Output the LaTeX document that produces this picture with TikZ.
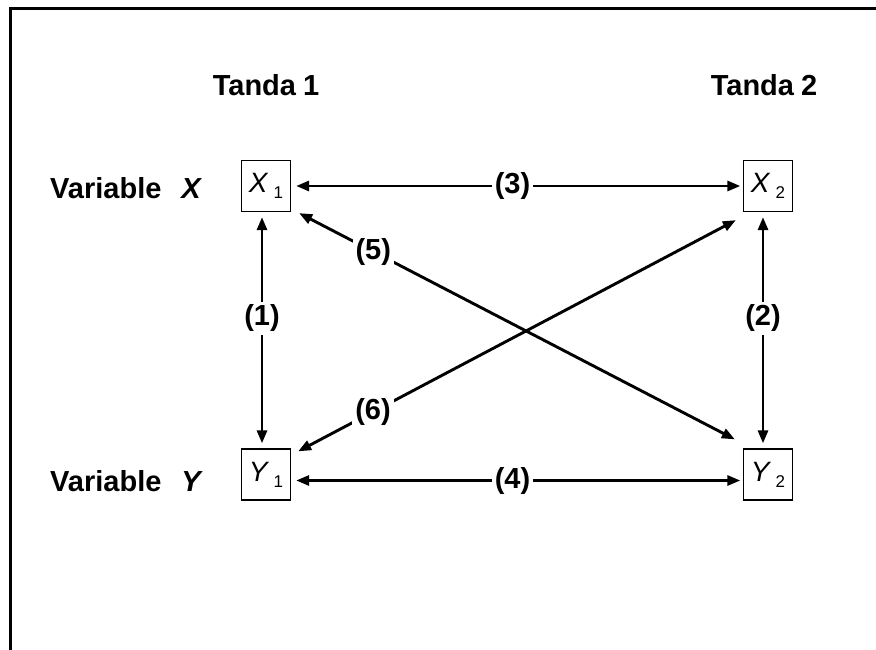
\documentclass[tikz,border=0pt]{standalone}
\usepackage{fontspec}
\setmainfont{Liberation Sans}
\usetikzlibrary{arrows.meta,calc}

\tikzset{
  lbl/.style={font=\fontsize{29}{33}\selectfont\bfseries, inner sep=0pt},
  varbox/.style={draw, line width=1.3pt, minimum width=49pt, minimum height=51pt, inner sep=0pt},
  link/.style={line width=2.9pt, {Triangle[length=13pt,width=10pt]}-{Triangle[length=13pt,width=10pt]}},
  tag/.style={fill=white, inner sep=3pt, font=\fontsize{29}{33}\selectfont\bfseries},
  frame/.style={line width=3.2pt}
}

\newcommand{\boxvar}[2]{{\fontsize{28}{28}\selectfont\itshape #1}\kern6pt\raisebox{-6pt}{\fontsize{17}{17}\selectfont #2}}

\begin{document}
\begin{tikzpicture}[x=1pt,y=-1pt]
  \useasboundingbox (0,0) rectangle (876,650);

  % open frame: top and left edges
  \draw[frame] (9,8.5) -- (876,8.5);
  \draw[frame] (10.5,7) -- (10.5,650);

  % column and row headings
  \node[lbl] (t1) at (266,85) {Tanda\hspace{7pt}1};
  \node[lbl] (t2) at (764,85) {Tanda\hspace{7pt}2};
  \node[lbl, anchor=west] (vx) at (50,188) {Variable\hspace{20pt}\textit{X}};
  \node[lbl, anchor=west] (vy) at (50,481) {Variable\hspace{20pt}\textit{Y}};

  % variable boxes
  \node[varbox] (X1) at (266,186)   {\boxvar{X}{1}};
  \node[varbox] (X2) at (768,186)   {\boxvar{X}{2}};
  \node[varbox] (Y1) at (266,474.5) {\boxvar{Y}{1}};
  \node[varbox] (Y2) at (768,474.5) {\boxvar{Y}{2}};

  % two-headed relations
  \draw[link] ($(X1.east)+(5,0)$) -- node[tag, pos=0.487] {(3)} ($(X2.west)+(-2.5,0)$);
  \draw[link] ($(Y1.east)+(5,6)$) -- node[tag, pos=0.487] {(4)} ($(Y2.west)+(-2.5,6)$);
  \draw[link] ($(X1.south)+(-4,5)$) -- node[tag, pos=0.447] {(1)} ($(Y1.north)+(-4,-5)$);
  \draw[link] ($(X2.south)+(-5,5)$) -- node[tag, pos=0.447] {(2)} ($(Y2.north)+(-5,-5)$);
  \draw[link] ($(X1.south east)+(8,1)$) -- node[tag, pos=0.17] {(5)} ($(Y2.north west)+(-8,-9)$);
  \draw[link] ($(Y1.north east)+(7,3)$) -- node[tag, pos=0.171] {(6)} ($(X2.south west)+(-7,8)$);
\end{tikzpicture}
\end{document}
